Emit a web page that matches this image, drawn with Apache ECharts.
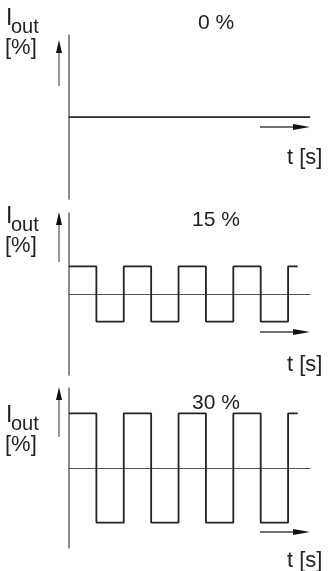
<!DOCTYPE html>
<html>
<head>
<meta charset="utf-8">
<script src="https://cdn.jsdelivr.net/npm/echarts@6/dist/echarts.min.js"></script>
<style>
html,body{margin:0;padding:0;background:#fff;}
#chart{width:331px;height:571px;}
</style>
</head>
<body>
<div id="chart"></div>
<script>
// Panel titles (duty / amplitude labels)
const panelLabels = ['0 %', '15 %', '30 %'];
const yLabelMain = 'I';
const yLabelSub = 'out';
const yLabelUnit = '[%]';
const xLabel = 't [s]';

// Time in half-periods, output current in %
const time0 = [0, 8.8];
const value0 = [0, 0];
const time15 = [0, 1, 2, 3, 4, 5, 6, 7, 8, 8.35];
const value15 = [15, -15, 15, -15, 15, -15, 15, -15, 15, 15];
const time30 = [0, 1, 2, 3, 4, 5, 6, 7, 8, 8.35];
const value30 = [30, -30, 30, -30, 30, -30, 30, -30, 30, 30];

const yMin = -44, yMax = 44, xMax = 8.8;

const chart = echarts.init(document.getElementById('chart'), null, {renderer: 'canvas'});

const grids = [
  {left: 69, top: 35, width: 241, height: 164},
  {left: 69, top: 213, width: 241, height: 162},
  {left: 69, top: 388, width: 241, height: 160}
];
const seriesData = [
  time0.map((t, i) => [t, value0[i]]),
  time15.map((t, i) => [t, value15[i]]),
  time30.map((t, i) => [t, value30[i]])
];

const FONT = '"Liberation Sans", Arial, sans-serif';
const TXT = '#222';

const xAxes = grids.map((g, i) => ({
  type: 'value', gridIndex: i, min: 0, max: xMax,
  axisLine: {show: true, onZero: true, lineStyle: {color: '#555', width: 1}},
  axisTick: {show: false}, axisLabel: {show: false}, splitLine: {show: false}
}));
const yAxes = grids.map((g, i) => ({
  type: 'value', gridIndex: i, min: yMin, max: yMax,
  axisLine: {show: true, onZero: false, lineStyle: {color: '#666', width: 1.5}},
  axisTick: {show: false}, axisLabel: {show: false}, splitLine: {show: false}
}));
const series = seriesData.map((d, i) => ({
  type: 'line', xAxisIndex: i, yAxisIndex: i, data: d,
  step: 'end', symbol: 'none', silent: true, animation: false,
  lineStyle: {color: '#222', width: i === 0 ? 1.4 : 1.8}
}));

// decorations: labels and arrows
const graphic = [];
const labelTop = [7, 205, 404];      // top of "I" per panel
const titleY = [23, 220, 403];
const tY = [158, 365, 561];
const upArrow = [[40, 86], [212, 262], [387, 437]];
const rightArrowY = [127, 332, 532];
grids.forEach((g, i) => {
  graphic.push({type: 'text', left: 6, top: labelTop[i],
    style: {text: yLabelMain, font: '23px ' + FONT, fill: TXT}});
  graphic.push({type: 'text', left: 11, top: labelTop[i] + 10,
    style: {text: yLabelSub, font: '20px ' + FONT, fill: TXT}});
  graphic.push({type: 'text', left: 5, top: labelTop[i] + 30,
    style: {text: yLabelUnit, font: '22px ' + FONT, fill: TXT}});
  graphic.push({type: 'text', x: 216, y: titleY[i],
    style: {text: panelLabels[i], font: '21px ' + FONT, fill: TXT, align: 'center', verticalAlign: 'middle'}});
  graphic.push({type: 'text', x: 287, y: tY[i],
    style: {text: xLabel, font: '22px ' + FONT, fill: TXT, align: 'left', verticalAlign: 'middle'}});
  // up arrow
  const [tip, bot] = upArrow[i];
  graphic.push({type: 'line', shape: {x1: 59, y1: bot, x2: 59, y2: tip + 10},
    style: {stroke: '#777', lineWidth: 1.5}});
  graphic.push({type: 'polygon', shape: {points: [[59, tip], [56, tip + 13], [62, tip + 13]]},
    style: {fill: '#111'}});
  // right arrow
  const ry = rightArrowY[i];
  graphic.push({type: 'line', shape: {x1: 260, y1: ry, x2: 298, y2: ry},
    style: {stroke: '#444', lineWidth: 1.3}});
  graphic.push({type: 'polygon', shape: {points: [[310, ry], [293, ry - 3], [293, ry + 3]]},
    style: {fill: '#111'}});
});

chart.setOption({
  animation: false,
  backgroundColor: '#fff',
  grid: grids,
  xAxis: xAxes,
  yAxis: yAxes,
  series: series,
  graphic: graphic
});
</script>
</body>
</html>
